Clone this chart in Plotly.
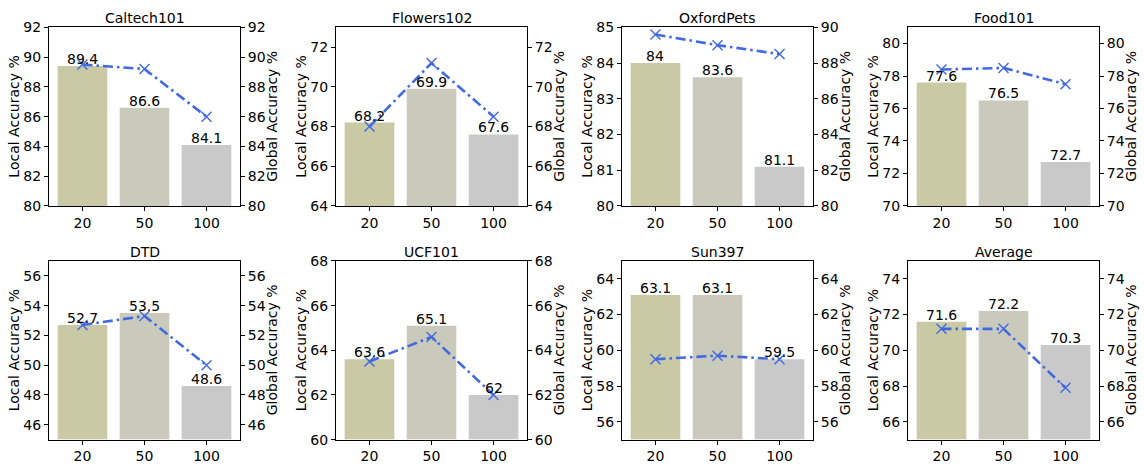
import plotly.graph_objects as go

# Number of clients on the x axis
clients = ["20", "50", "100"]

datasets = ["Caltech101", "Flowers102", "OxfordPets", "Food101",
            "DTD", "UCF101", "Sun397", "Average"]

# Local accuracy (bars, left axis)
caltech_local = [89.4, 86.6, 84.1]
flowers_local = [68.2, 69.9, 67.6]
pets_local = [84.0, 83.6, 81.1]
food_local = [77.6, 76.5, 72.7]
dtd_local = [52.7, 53.5, 48.6]
ucf_local = [63.6, 65.1, 62.0]
sun_local = [63.1, 63.1, 59.5]
avg_local = [71.6, 72.2, 70.3]

# Global accuracy (line, right axis)
caltech_global = [89.5, 89.2, 86.0]
flowers_global = [68.0, 71.2, 68.5]
pets_global = [89.6, 89.0, 88.5]
food_global = [78.4, 78.5, 77.5]
dtd_global = [52.7, 53.3, 50.0]
ucf_global = [63.5, 64.6, 62.0]
sun_global = [59.5, 59.7, 59.5]
avg_global = [71.2, 71.2, 67.9]

local_series = [caltech_local, flowers_local, pets_local, food_local,
                dtd_local, ucf_local, sun_local, avg_local]
global_series = [caltech_global, flowers_global, pets_global, food_global,
                 dtd_global, ucf_global, sun_global, avg_global]

# Axis limits and tick steps: (left range, left step, right range, right step)
axis_cfg = [
    ([80, 92], 2, [80, 92], 2),
    ([64, 73], 2, [64, 73], 2),
    ([80, 85], 1, [80, 90], 2),
    ([70, 81], 2, [70, 81], 2),
    ([45, 57], 2, [45, 57], 2),
    ([60, 68], 2, [60, 68], 2),
    ([55, 65], 2, [55, 65], 2),
    ([65, 75], 2, [65, 75], 2),
]

bar_colors = ["#c9c9a6", "#c9cabb", "#c9c9c9"]
line_color = "#4169e1"
FONT = "DejaVu Sans"
FS = 14
W, H = 1144, 465

# Subplot boxes in pixels
col_left = [49, 336, 622, 908]
box_w = 191
row_top = [20, 262]
box_h = 185

fig = go.Figure()
annotations = []
layout = {}

for i, name in enumerate(datasets):
    r, c = divmod(i, 4)
    x0 = col_left[c] / W
    x1 = (col_left[c] + box_w) / W
    y1 = 1 - row_top[r] / H
    y0 = 1 - (row_top[r] + box_h) / H

    xa = "x" if i == 0 else f"x{i + 1}"
    yl = "y" if i == 0 else f"y{2 * i + 1}"
    yr = f"y{2 * i + 2}"
    xkey = "xaxis" if i == 0 else f"xaxis{i + 1}"
    ylkey = "yaxis" if i == 0 else f"yaxis{2 * i + 1}"
    yrkey = f"yaxis{2 * i + 2}"

    lrange, lstep, rrange, rstep = axis_cfg[i]
    loc = local_series[i]
    glo = global_series[i]

    fig.add_trace(go.Bar(
        x=clients, y=[v - lrange[0] for v in loc], base=lrange[0],
        width=0.8, marker=dict(color=bar_colors, line=dict(width=0)),
        xaxis=xa, yaxis=yl, showlegend=False, hoverinfo="skip",
    ))
    fig.add_trace(go.Scatter(
        x=clients, y=glo, mode="lines+markers",
        line=dict(color=line_color, width=2.6, dash="10px,4px,2.5px,4px"),
        marker=dict(symbol="x-thin-open", size=10,
                    line=dict(color=line_color, width=1.4)),
        xaxis=xa, yaxis=yr, showlegend=False, cliponaxis=False,
    ))

    # value labels above the bars (x given as category index)
    for k, v in enumerate(loc):
        annotations.append(dict(
            x=k, y=v, xref=xa, yref=yl, text=f"{v:g}",
            showarrow=False, yanchor="bottom", xanchor="center",
            yshift=-3, font=dict(family=FONT, size=FS, color="black"),
        ))

    # subplot title
    annotations.append(dict(
        x=(x0 + x1) / 2, y=y1, xref="paper", yref="paper", text=name,
        showarrow=False, xanchor="center", yanchor="bottom", yshift=-1,
        font=dict(family=FONT, size=FS, color="black"),
    ))
    # axis titles
    ymid = (y0 + y1) / 2
    annotations.append(dict(
        x=(col_left[c] - 35) / W, y=ymid, xref="paper", yref="paper",
        text="Local Accuracy %", textangle=-90, showarrow=False,
        xanchor="center", yanchor="middle",
        font=dict(family=FONT, size=FS, color="black"),
    ))
    annotations.append(dict(
        x=(col_left[c] + box_w + 32) / W, y=ymid, xref="paper", yref="paper",
        text="Global Accuracy %", textangle=-90, showarrow=False,
        xanchor="center", yanchor="middle",
        font=dict(family=FONT, size=FS, color="black"),
    ))

    axis_common = dict(
        showline=True, linecolor="black", linewidth=1,
        ticks="outside", ticklen=4, tickwidth=1, tickcolor="black",
        showgrid=False, zeroline=False,
        tickfont=dict(family=FONT, size=FS, color="black"),
        fixedrange=True,
    )
    layout[xkey] = dict(
        domain=[x0, x1], anchor=yl, type="category",
        range=[-0.54, 2.54], mirror=True, **axis_common,
    )
    layout[ylkey] = dict(
        domain=[y0, y1], anchor=xa, range=lrange,
        tick0=0, dtick=lstep, side="left", **axis_common,
    )
    layout[yrkey] = dict(
        anchor=xa, overlaying=yl, range=rrange,
        tick0=0, dtick=rstep, side="right", **axis_common,
    )

fig.update_layout(
    width=W, height=H,
    margin=dict(l=0, r=0, t=0, b=0),
    paper_bgcolor="white", plot_bgcolor="white",
    font=dict(family=FONT, size=FS, color="black"),
    annotations=annotations,
    bargap=0.2,
    **layout,
)

fig.write_html("out.html", config={"displayModeBar": False})
